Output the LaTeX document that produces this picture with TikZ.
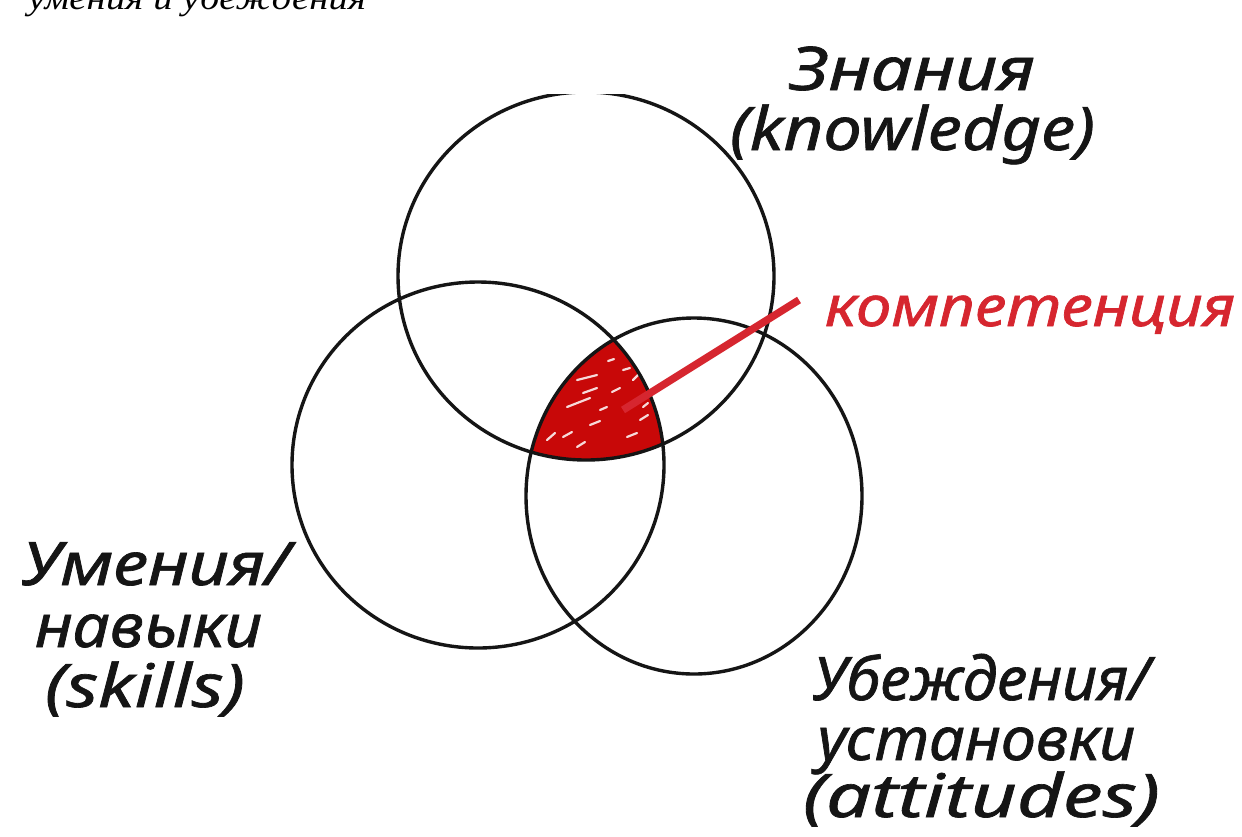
\documentclass[tikz,border=0pt]{standalone}
\usepackage{fontspec}
\usepackage{graphicx}
\setmainfont{Liberation Serif}
\newfontfamily\hand{Noto Sans}[ItalicFeatures={FakeBold=1.1}]
\definecolor{ink}{HTML}{151515}
\definecolor{fillred}{HTML}{C80808}
\definecolor{linered}{HTML}{D6262F}
\newcommand\fitw[2]{\resizebox{#1}{\height}{#2}}
\tikzset{
  ring/.style={draw=ink, line width=3.4pt},
  lbl/.style={anchor=base west, inner sep=0pt, outer sep=0pt, text=ink, font=\hand\itshape\fontsize{60}{60}\selectfont},
  redlbl/.style={lbl, text=linered, font=\hand\itshape\fontsize{56}{56}\selectfont},
  streak/.style={draw=white, line width=2.2pt, line cap=round, opacity=0.85}
}
\begin{document}
\begin{tikzpicture}[x=1pt,y=-1pt]
\useasboundingbox (0,0) rectangle (1242,836);
\fill[white] (0,0) rectangle (1242,836);
% cut-off caption at the top
\begin{scope}
  \clip (0,0) rectangle (1242,836);
  \node (cap) [anchor=base west, inner sep=0pt, font=\itshape\fontsize{34}{34}\selectfont] at (28,9) {\fitw{338pt}{умения и убеждения}};
\end{scope}
% red intersection
\begin{scope}
  \clip (586,276) ellipse [x radius=188, y radius=184];
  \clip (478,465) ellipse [x radius=186, y radius=183];
  \fill[fillred] (694,496) ellipse [x radius=168, y radius=178];
\end{scope}
% white streaks
\foreach \a/\b/\c/\d in {608/361/614/359, 623/370/630/368, 577/380/597/375, 583/393/597/388, 567/407/590/398, 547/440/555/433, 563/437/572/432, 577/447/585/442, 627/437/637/433, 640/420/648/415, 633/380/638/375, 600/410/607/407, 643/407/648/403, 590/425/600/421, 612/392/620/388}
  \draw[streak] (\a,\b) -- (\c,\d);
% circles
\begin{scope}
  \clip (0,94) rectangle (1242,836);
  \draw[ring] (586,276) ellipse [x radius=188, y radius=184];
\end{scope}
\draw[ring] (478,465) ellipse [x radius=186, y radius=183];
\draw[ring] (694,496) ellipse [x radius=168, y radius=178];
% labels
\node (zn) [lbl] at (790,90) {\fitw{245pt}{Знания}};
\node (kn) [lbl] at (730,150) {\fitw{365pt}{(knowledge)}};
\node (komp) [redlbl] at (825,326) {\fitw{410pt}{компетенция}};
\coordinate (pin) at (623,410);
\coordinate (tip) at (799,300);
\draw[linered, line width=7.5pt] (pin) -- (tip);
\node (um) [lbl] at (22,585) {\fitw{268pt}{Умения/}};
\node (nav) [lbl] at (35,647) {\fitw{227pt}{навыки}};
\node (sk) [lbl] at (45,707) {\fitw{200pt}{(skills)}};
\node (ub) [lbl] at (813,700) {\fitw{337pt}{Убеждения/}};
\node (ust) [lbl] at (817,760) {\fitw{318pt}{установки}};
\node (att) [lbl] at (803,817) {\fitw{357pt}{(attitudes)}};
\end{tikzpicture}
\end{document}
